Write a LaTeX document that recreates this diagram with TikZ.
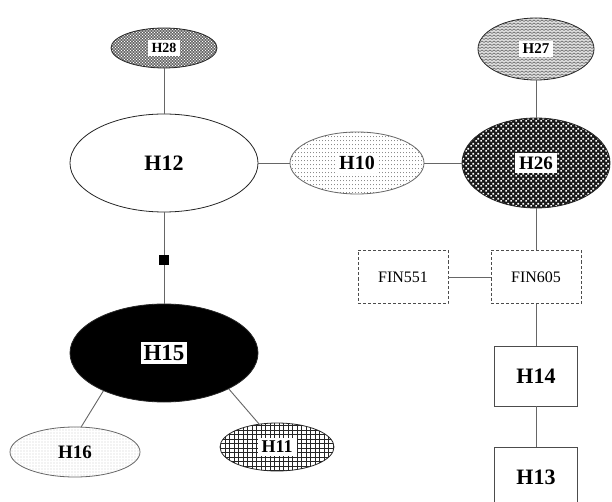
\documentclass[tikz,border=0pt]{standalone}
\usepackage{fontspec}
\setmainfont{Liberation Serif}
\usetikzlibrary{shapes.geometric,patterns}
\pgfdeclarepatternformonly{zigzagp}{\pgfqpoint{-1pt}{-1pt}}{\pgfqpoint{5pt}{4pt}}{\pgfqpoint{4pt}{3pt}}{%
  \pgfsetlinewidth{0.6pt}%
  \pgfpathmoveto{\pgfqpoint{0pt}{0.5pt}}\pgfpathlineto{\pgfqpoint{2pt}{2pt}}\pgfpathlineto{\pgfqpoint{4pt}{0.5pt}}\pgfusepath{stroke}}
\pgfdeclarepatternformonly{vdashp}{\pgfqpoint{-1pt}{-1pt}}{\pgfqpoint{4pt}{5pt}}{\pgfqpoint{3pt}{4pt}}{%
  \pgfsetlinewidth{0.6pt}%
  \pgfpathmoveto{\pgfqpoint{1pt}{0.5pt}}\pgfpathlineto{\pgfqpoint{1pt}{2.3pt}}\pgfusepath{stroke}}
\pgfdeclarepatternformonly{biggrid}{\pgfqpoint{-1pt}{-1pt}}{\pgfqpoint{5.5pt}{5.5pt}}{\pgfqpoint{4.5pt}{4.5pt}}{%
  \pgfsetlinewidth{0.7pt}%
  \pgfpathmoveto{\pgfqpoint{0pt}{0pt}}\pgfpathlineto{\pgfqpoint{4.5pt}{0pt}}%
  \pgfpathmoveto{\pgfqpoint{0pt}{0pt}}\pgfpathlineto{\pgfqpoint{0pt}{4.5pt}}\pgfusepath{stroke}}
\pgfdeclarepatternformonly{sparsedots}{\pgfqpoint{-1pt}{-1pt}}{\pgfqpoint{4pt}{4pt}}{\pgfqpoint{3pt}{3pt}}{%
  \pgfpathcircle{\pgfqpoint{0pt}{0pt}}{0.45pt}\pgfusepath{fill}}
\pgfdeclarepatternformonly{whitedots}{\pgfqpoint{-1pt}{-1pt}}{\pgfqpoint{4pt}{4pt}}{\pgfqpoint{3pt}{3pt}}{%
  \pgfpathcircle{\pgfqpoint{0pt}{0pt}}{0.8pt}\pgfpathcircle{\pgfqpoint{1.5pt}{1.5pt}}{0.8pt}\pgfusepath{fill}}
\pgfdeclarepatternformonly{whitecheck}{\pgfqpoint{0pt}{0pt}}{\pgfqpoint{5pt}{5pt}}{\pgfqpoint{5pt}{5pt}}{%
  \pgfpathrectangle{\pgfqpoint{0.3pt}{0.3pt}}{\pgfqpoint{2pt}{2pt}}%
  \pgfpathrectangle{\pgfqpoint{2.8pt}{2.8pt}}{\pgfqpoint{2pt}{2pt}}\pgfusepath{fill}}
\tikzset{
  ell/.style={ellipse, draw=black!85, line width=0.8pt, inner sep=0pt},
  lab/.style={fill=white, inner xsep=4pt, inner ysep=3.5pt, font=\bfseries},
  conn/.style={draw=black!60, line width=0.9pt},
  finbox/.style={draw=black!70, dashed, dash pattern=on 3pt off 2pt, line width=0.7pt, minimum width=90pt, minimum height=53pt, inner sep=0pt, font=\fontsize{16}{18}\selectfont},
  hbox/.style={draw=black!70, line width=0.8pt, minimum width=83pt, minimum height=60pt, inner sep=0pt, font=\fontsize{22}{24}\selectfont\bfseries},
}
\begin{document}
\begin{tikzpicture}[x=1pt,y=-1pt]
\useasboundingbox (0,0) rectangle (612,502);
\clip (0,0) rectangle (612,502);
\fill[white] (0,0) rectangle (612,502);
% left column
\node[ell, preaction={fill=black!75}, pattern=whitedots, pattern color=white, minimum width=106pt, minimum height=40pt] (h28) at (164,48) {};
\node[lab, font=\fontsize{14}{16}\selectfont\bfseries] (h28l) at (h28) {H28};
\node[ell, fill=white, minimum width=188pt, minimum height=98pt] (h12) at (164,163) {};
\node[font=\fontsize{22}{24}\selectfont\bfseries] (h12l) at (h12) {H12};
\node[ell, fill=black, minimum width=188pt, minimum height=98pt] (h15) at (164,353) {};
\node[lab, inner sep=3pt, font=\fontsize{23}{25}\selectfont\bfseries] (h15l) at (h15) {H15};
\node[ell, draw=black!60, pattern=sparsedots, pattern color=black!55, minimum width=130pt, minimum height=50pt] (h16) at (75,452) {};
\node[font=\fontsize{19}{21}\selectfont\bfseries] (h16l) at (h16) {H16};
\node[ell, pattern=biggrid, pattern color=black!85, minimum width=114pt, minimum height=48pt] (h11) at (277,447) {};
\node[lab, font=\fontsize{18}{20}\selectfont\bfseries] (h11l) at (h11) {H11};
% middle
\node[ell, draw=black!60, pattern=vdashp, pattern color=black!45, minimum width=134pt, minimum height=62pt] (h10) at (357,163) {};
\node[lab, fill=white, font=\fontsize{20}{22}\selectfont\bfseries] (h10l) at (h10) {H10};
% right column
\node[ell, preaction={fill=gray!25}, pattern=zigzagp, pattern color=black!60, minimum width=116pt, minimum height=62pt] (h27) at (536,49) {};
\node[lab, font=\fontsize{15}{17}\selectfont\bfseries] (h27l) at (h27) {H27};
\node[ell, preaction={fill=black!90}, pattern=whitecheck, pattern color=white, minimum width=148pt, minimum height=90pt] (h26) at (536,163) {};
\node[lab, font=\fontsize{19}{21}\selectfont\bfseries] (h26l) at (h26) {H26};
\node[finbox] (fin551) at (403,277) {FIN551};
\node[finbox] (fin605) at (536,277) {FIN605};
\node[hbox] (h14) at (536,376) {H14};
\node[hbox] (h13) at (536,477) {H13};
% connectors
\draw[conn] (h28) -- (h12);
\draw[conn] (h12) -- (h15);
\draw[conn] (h15.212) -- (h16.76);
\draw[conn] (h15.331) -- (h11.128);
\draw[conn] (h12) -- (h10);
\draw[conn] (h10) -- (h26);
\draw[conn] (h27) -- (h26);
\draw[conn] (h26) -- (fin605);
\draw[conn] (fin551) -- (fin605);
\draw[conn] (fin605) -- (h14);
\draw[conn] (h14) -- (h13);
\node[fill=black, minimum size=10pt, inner sep=0pt] (sq) at (164,260) {};
\end{tikzpicture}
\end{document}
